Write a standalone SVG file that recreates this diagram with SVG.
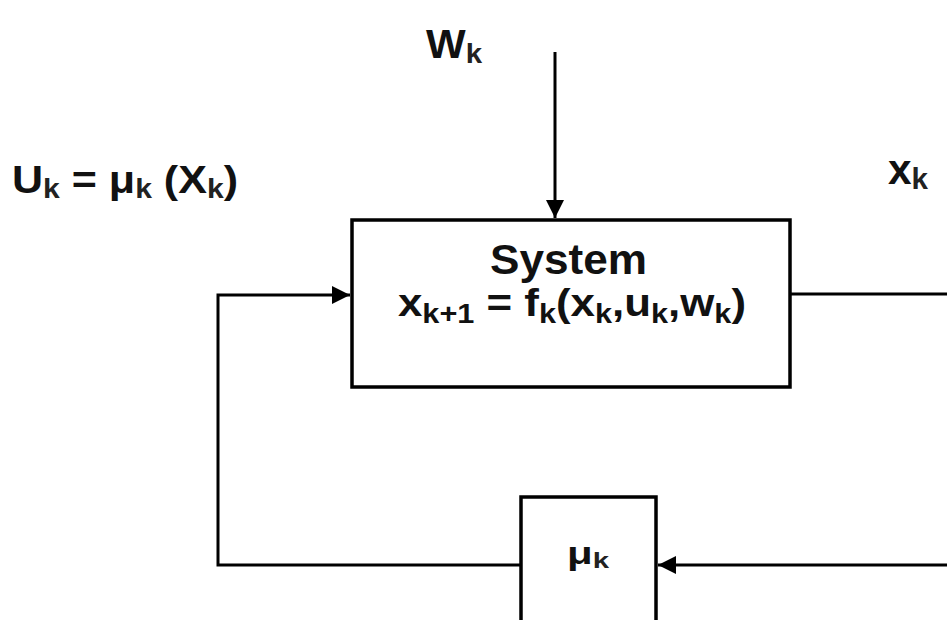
<svg xmlns="http://www.w3.org/2000/svg" width="947" height="620" viewBox="0 0 947 620">
<defs>
<style>
.t{font-family:"Liberation Sans",Arial,sans-serif;font-weight:bold;fill:#111;}
.box{fill:#fff;stroke:#000;stroke-width:3.5;}
.ln{fill:none;stroke:#000;stroke-width:3;}
.s{font-size:70%;}
.r{fill:#222;}
</style>
<marker id="ah" markerUnits="userSpaceOnUse" markerWidth="20" markerHeight="18" refX="18" refY="9" orient="auto"><path d="M0,0 L18,9 L0,18 Z" fill="#000"/></marker>
</defs>
<rect width="947" height="620" fill="#fff"/>
<g id="connectors">
<path class="ln" d="M555,52 V218" marker-end="url(#ah)"/>
<path class="ln" d="M790,294 H947"/>
<path class="ln" d="M947,565 H658" marker-end="url(#ah)"/>
<path class="ln" d="M521,565 H218 V295 H350" marker-end="url(#ah)"/>
</g>
<g id="system">
<rect class="box" x="352" y="220" width="438" height="167"/>
<text class="t" x="490" y="274" font-size="43" textLength="157" lengthAdjust="spacingAndGlyphs">System</text>
<text class="t" x="398" y="316" font-size="39" textLength="348" lengthAdjust="spacingAndGlyphs">x<tspan class="s" dy="7">k+1</tspan><tspan dy="-7"> = f</tspan><tspan class="s" dy="7">k</tspan><tspan dy="-7">(x</tspan><tspan class="s" dy="7">k</tspan><tspan dy="-7">,u</tspan><tspan class="s" dy="7">k</tspan><tspan dy="-7">,w</tspan><tspan class="s" dy="7">k</tspan><tspan dy="-7">)</tspan></text>
</g>
<g id="controller">
<rect class="box" x="521" y="497" width="135" height="140"/>
<text class="t" x="567" y="564" font-size="32" textLength="42" lengthAdjust="spacingAndGlyphs">μ<tspan class="s r" dy="4">k</tspan></text>
</g>
<g id="labels">
<text class="t" x="426" y="58" font-size="40" textLength="56" lengthAdjust="spacingAndGlyphs">W<tspan class="s r" dy="5">k</tspan></text>
<text class="t" x="12" y="193" font-size="39" textLength="226" lengthAdjust="spacingAndGlyphs">U<tspan class="s r" dy="5">k</tspan><tspan dy="-5"> =  μ</tspan><tspan class="s r" dy="5">k</tspan><tspan dy="-5"> (X</tspan><tspan class="s r" dy="5">k</tspan><tspan dy="-5">)</tspan></text>
<text class="t" x="888" y="184" font-size="42" textLength="40" lengthAdjust="spacingAndGlyphs">x<tspan class="s r" dy="5">k</tspan></text>
</g>
</svg>
